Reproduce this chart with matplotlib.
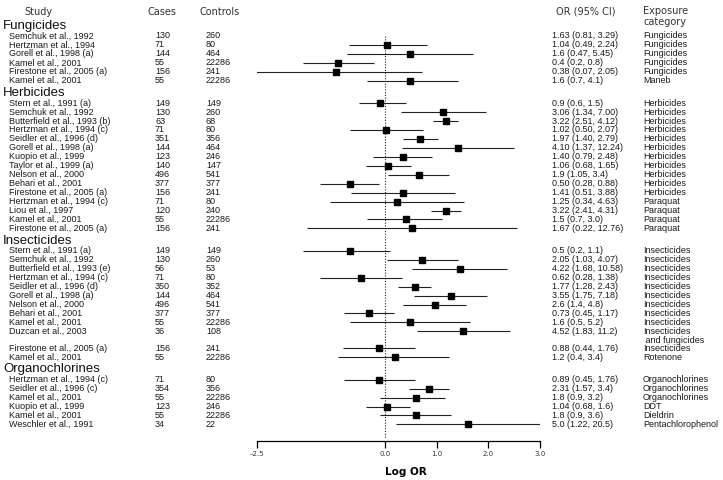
import numpy as np
import matplotlib.pyplot as plt
from matplotlib.transforms import blended_transform_factory

# ---- data ----
groups = ['Fungicides', 'Herbicides', 'Insecticides', 'Organochlorines']
group_size = [6, 15, 12, 6]

study = [
    'Semchuk et al., 1992', 'Hertzman et al., 1994', 'Gorell et al., 1998 (a)',
    'Kamel et al., 2001', 'Firestone et al., 2005 (a)', 'Kamel et al., 2001',
    'Stern et al., 1991 (a)', 'Semchuk et al., 1992', 'Butterfield et al., 1993 (b)',
    'Hertzman et al., 1994 (c)', 'Seidler et al., 1996 (d)', 'Gorell et al., 1998 (a)',
    'Kuopio et al., 1999', 'Taylor et al., 1999 (a)', 'Nelson et al., 2000',
    'Behari et al., 2001', 'Firestone et al., 2005 (a)', 'Hertzman et al., 1994 (c)',
    'Liou et al., 1997', 'Kamel et al., 2001', 'Firestone et al., 2005 (a)',
    'Stern et al., 1991 (a)', 'Semchuk et al., 1992', 'Butterfield et al., 1993 (e)',
    'Hertzman et al., 1994 (c)', 'Seidler et al., 1996 (d)', 'Gorell et al., 1998 (a)',
    'Nelson et al., 2000', 'Behari et al., 2001', 'Kamel et al., 2001',
    'Duzcan et al., 2003', 'Firestone et al., 2005 (a)', 'Kamel et al., 2001',
    'Hertzman et al., 1994 (c)', 'Seidler et al., 1996 (c)', 'Kamel et al., 2001',
    'Kuopio et al., 1999', 'Kamel et al., 2001', 'Weschler et al., 1991',
]
cases = ['130', '71', '144', '55', '156', '55',
         '149', '130', '63', '71', '351', '144', '123', '140', '496', '377', '156',
         '71', '120', '55', '156',
         '149', '130', '56', '71', '350', '144', '496', '377', '55', '36', '156', '55',
         '71', '354', '55', '123', '55', '34']
controls = ['260', '80', '464', '22286', '241', '22286',
            '149', '260', '68', '80', '356', '464', '246', '147', '541', '377', '241',
            '80', '240', '22286', '241',
            '149', '260', '53', '80', '352', '464', '541', '377', '22286', '108', '241', '22286',
            '80', '356', '22286', '246', '22286', '22']
odds = ['1.63', '1.04', '1.6', '0.4', '0.38', '1.6',
        '0.9', '3.06', '3.22', '1.02', '1.97', '4.10', '1.40', '1.06', '1.9', '0.50', '1.41',
        '1.25', '3.22', '1.5', '1.67',
        '0.5', '2.05', '4.22', '0.62', '1.77', '3.55', '2.6', '0.73', '1.6', '4.52', '0.88', '1.2',
        '0.89', '2.31', '1.8', '1.04', '1.8', '5.0']
ci_low = ['0.81', '0.49', '0.47', '0.2', '0.07', '0.7',
          '0.6', '1.34', '2.51', '0.50', '1.40', '1.37', '0.79', '0.68', '1.05', '0.28', '0.51',
          '0.34', '2.41', '0.7', '0.22',
          '0.2', '1.03', '1.68', '0.28', '1.28', '1.75', '1.4', '0.45', '0.5', '1.83', '0.44', '0.4',
          '0.45', '1.57', '0.9', '0.68', '0.9', '1.22']
ci_high = ['3.29', '2.24', '5.45', '0.8', '2.05', '4.1',
           '1.5', '7.00', '4.12', '2.07', '2.79', '12.24', '2.48', '1.65', '3.4', '0.88', '3.88',
           '4.63', '4.31', '3.0', '12.76',
           '1.1', '4.07', '10.58', '1.38', '2.43', '7.18', '4.8', '1.17', '5.2', '11.2', '1.76', '3.4',
           '1.76', '3.4', '3.2', '1.6', '3.6', '20.5']
exposure = ['Fungicides'] * 5 + ['Maneb'] + \
           ['Herbicides'] * 11 + ['Paraquat'] * 4 + \
           ['Insecticides'] * 9 + ['Insecticides\n and fungicides', 'Insecticides', 'Rotenone'] + \
           ['Organochlorines'] * 3 + ['DDT', 'Dieldrin', 'Pentachlorophenol']
# the first fungicide study has no estimate drawn in the original figure
drawn = [False] + [True] * 38

# ---- layout ----
W, H = 723, 480
ROW = 8.95   # px per row
Y0 = 36      # px of first row
fig = plt.figure(figsize=(W / 100, H / 100), dpi=100)
ax = fig.add_axes([256.7 / W, 39 / H, (540 - 256.7) / W, 1 - 39 / H])

def ypx(p):
    return (p - Y0) / ROW

rows_y, heads_y = [], []
r, k = 0.0, 0
for g, n in zip(groups, group_size):
    heads_y.append(r - 1.15)
    for i in range(n):
        rows_y.append(r)
        r += 1.9 if '\n' in exposure[k] else 1
        k += 1
    r += 1.5

ax.set_xlim(-2.5, 3.0)
ax.set_ylim(ypx(441), ypx(0))

# estimates on the log scale
log_or = np.log(np.array(odds, dtype=float))
log_lo = np.log(np.array(ci_low, dtype=float))
log_hi = np.log(np.array(ci_high, dtype=float))
yy = np.array(rows_y)
m = np.array(drawn)
ax.hlines(yy[m], log_lo[m], log_hi[m], color='#222222', lw=0.8, zorder=2)
ax.plot(log_or[m], yy[m], 's', color='black', ms=4.6, zorder=3)
ax.vlines(0, 0, ypx(438), color='#222222', lw=0.8, linestyles=(0, (1, 1.5)), zorder=1)

for s in ['top', 'left', 'right']:
    ax.spines[s].set_visible(False)
ax.spines['bottom'].set_linewidth(0.9)
ax.set_yticks([])
ax.set_xticks([-2.5, 0, 1, 2, 3])
narrow = ['Liberation Sans Narrow', 'DejaVu Sans']
ax.set_xticklabels(['\u20132.5', '0.0', '1.0', '2.0', '3.0'], fontsize=5, family=narrow, color='#333333')
ax.tick_params(axis='x', direction='out', length=5, width=0.9, pad=2)
ax.set_xlabel('Log OR', fontsize=7.5, fontweight='bold', family=narrow)
ax.xaxis.set_label_coords((405.5 - 256.7) / (540 - 256.7), -0.06)

# text table
tr = blended_transform_factory(fig.transFigure, ax.transData)
txt = dict(transform=tr, fontsize=6.5, va='center', color='#1a1a1a', family='Liberation Sans')
hdr = dict(transform=tr, fontsize=7, va='center', color='#333333', family=narrow)

ax.text(24 / W, ypx(12), 'Study', **hdr)
ax.text(147 / W, ypx(12), 'Cases', **hdr)
ax.text(199 / W, ypx(12), 'Controls', **hdr)
ax.text(556 / W, ypx(12), 'OR (95% CI)', **hdr)
ax.text(643 / W, ypx(11), 'Exposure', **hdr)
ax.text(643 / W, ypx(22), 'category', **hdr)

for g, hy in zip(groups, heads_y):
    ax.text(3 / W, hy, g, transform=tr, fontsize=9.5, va='center', color='#111111',
            family='Liberation Sans')

for i, y in enumerate(rows_y):
    ax.text(9 / W, y, study[i], **txt)
    ax.text(155 / W, y, cases[i], **txt)
    ax.text(206 / W, y, controls[i], **txt)
    ax.text(552 / W, y, f'{odds[i]} ({ci_low[i]}, {ci_high[i]})', **txt)
    # two-line category label takes an extra row
    for j, part in enumerate(exposure[i].split('\n')):
        ax.text(643 / W, y + j, part, **txt)

fig.savefig('out.png', dpi=100)
